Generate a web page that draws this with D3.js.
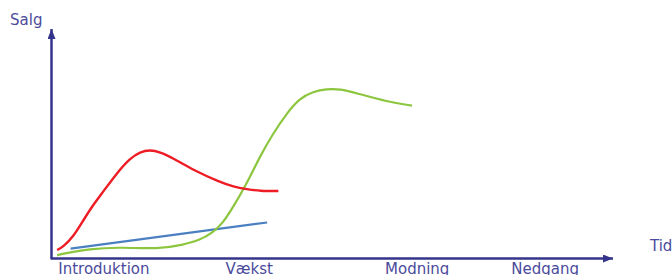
<!DOCTYPE html>
<html>
<head>
<meta charset="utf-8">
<script src="https://cdn.jsdelivr.net/npm/d3@7"></script>
<style>
  html, body { margin: 0; padding: 0; background: #fff; }
  svg { display: block; }
</style>
</head>
<body>
<svg id="chart" width="672" height="275"></svg>
<script>
// Phase labels on the time axis (value = start of label on the time scale)
const phaseLabels = ["Introduktion", "Vækst", "Modning", "Nedgang"];
const phaseStarts = [1.2, 31.0, 59.4, 81.9];

// Curves: [time, sales] in a 0..100 coordinate space
const redTime  = [1.0, 2.1, 3.9, 5.7, 7.4, 9.2, 11.6, 14.0, 15.8, 17.5, 19.3, 21.6, 25.2, 30.0, 32.4, 34.8, 37.1, 40.4];
const redSales = [3.7, 5.1, 9.5, 16.8, 23.3, 29.1, 37.1, 43.7, 46.5, 47.3, 46.5, 43.8, 38.6, 33.3, 31.3, 30.2, 29.4, 29.4];

const blueTime  = [3.4, 38.4];
const blueSales = [4.3, 15.7];

const greenTime  = [1.0, 6.9, 12.7, 18.8, 23.4, 26.5, 28.6, 30.4, 32.4, 34.8, 37.1, 39.5, 41.9, 44.2, 46.6, 49.0, 51.4, 54.4, 59.8, 64.2];
const greenSales = [1.5, 4.4, 4.9, 4.1, 5.9, 8.1, 11.1, 15.0, 22.6, 32.8, 44.4, 54.6, 63.3, 69.8, 72.7, 73.9, 73.9, 72.0, 68.3, 66.6];

const svg = d3.select("#chart");
const x = d3.scaleLinear().domain([0, 100]).range([51.5, 613]);
const y = d3.scaleLinear().domain([0, 100]).range([258.5, 29]);

const axisColor = "#34348c";
const textColor = "#4a4a9c";

const defs = svg.append("defs");
defs.append("marker")
  .attr("id", "arrow")
  .attr("viewBox", "0 0 10 8")
  .attr("refX", 10).attr("refY", 4)
  .attr("markerWidth", 10).attr("markerHeight", 8)
  .attr("markerUnits", "userSpaceOnUse")
  .attr("orient", "auto")
  .append("path").attr("d", "M0,0 L10,4 L0,8 Z").attr("fill", axisColor);

const line = d3.line().x(d => x(d[0])).y(d => y(d[1])).curve(d3.curveBasis);
const zip = (a, b) => a.map((v, i) => [v, b[i]]);

svg.append("path").datum(zip(blueTime, blueSales)).attr("d", line)
  .attr("fill", "none").attr("stroke", "#4a7fc1").attr("stroke-width", 2.2);
svg.append("path").datum(zip(greenTime, greenSales)).attr("d", line)
  .attr("fill", "none").attr("stroke", "#8cc63f").attr("stroke-width", 2.2);
svg.append("path").datum(zip(redTime, redSales)).attr("d", line)
  .attr("fill", "none").attr("stroke", "#ee1c25").attr("stroke-width", 2.4);

// Axes
svg.append("line")
  .attr("x1", x(0)).attr("y1", y(0)).attr("x2", x(0)).attr("y2", y(100))
  .attr("stroke", axisColor).attr("stroke-width", 2.5).attr("marker-end", "url(#arrow)");
svg.append("line")
  .attr("x1", x(0) - 1).attr("y1", y(0)).attr("x2", x(100)).attr("y2", y(0))
  .attr("stroke", axisColor).attr("stroke-width", 2.5).attr("marker-end", "url(#arrow)");

const font = "'DejaVu Sans', Verdana, sans-serif";

svg.selectAll("text.phase").data(phaseLabels).enter().append("text")
  .attr("class", "phase")
  .attr("x", (d, i) => x(phaseStarts[i]))
  .attr("y", 273.5)
  .attr("font-family", font).attr("font-size", 15)
  .attr("fill", textColor)
  .text(d => d);

svg.append("text").attr("x", 10).attr("y", 24.5)
  .attr("font-family", font).attr("font-size", 15).attr("fill", textColor).text("Salg");
svg.append("text").attr("x", 650).attr("y", 251)
  .attr("font-family", font).attr("font-size", 15).attr("fill", textColor).text("Tid");
</script>
</body>
</html>
